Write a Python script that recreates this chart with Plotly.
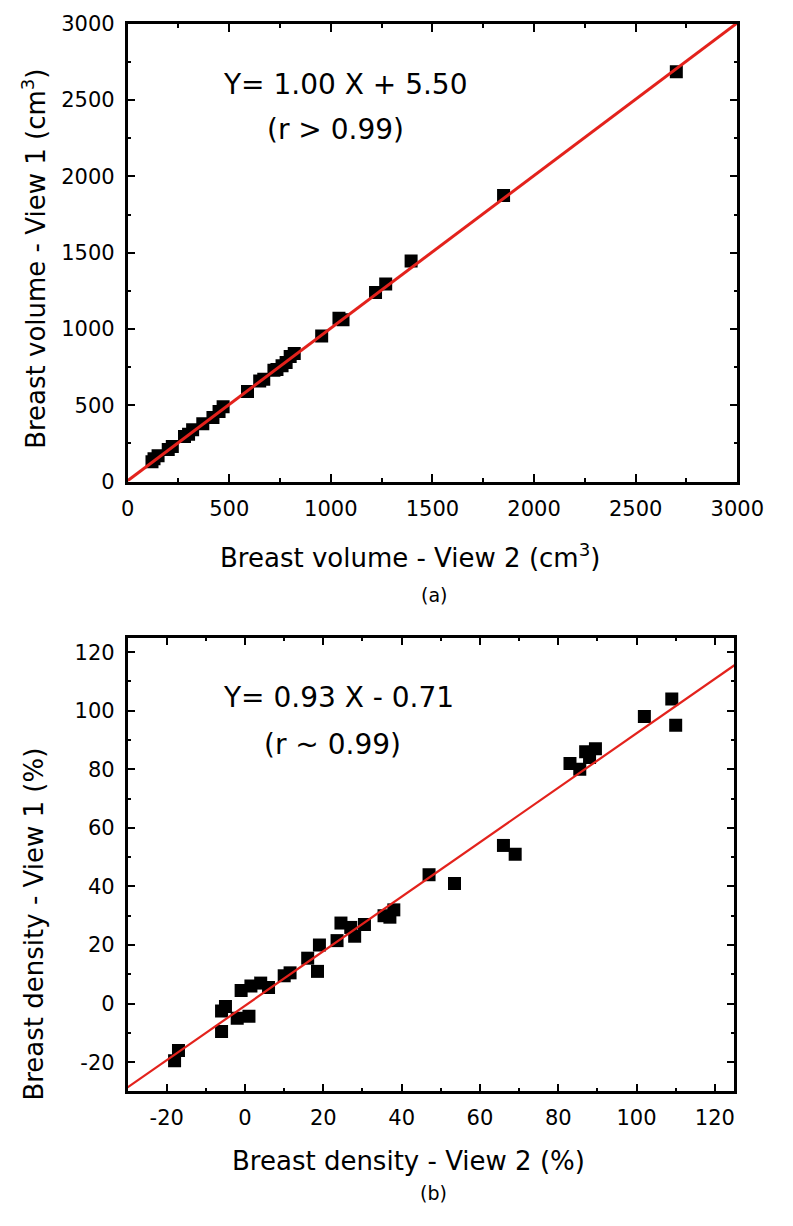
import plotly.graph_objects as go

# ---- data (a): breast volume ----
vol_view2 = [120, 130, 150, 200, 220, 280, 300, 320, 370, 420, 450, 470, 590, 650, 670,
             720, 735, 760, 780, 800, 820, 955, 1040, 1060, 1220, 1270, 1395, 1850, 2700]
vol_view1 = [130, 150, 170, 210, 230, 295, 310, 340, 380, 420, 460, 490, 590, 660, 670,
             730, 735, 760, 780, 820, 840, 955, 1070, 1060, 1240, 1295, 1445, 1875, 2685]
fit_a_x = [0, 3000]
fit_a_slope, fit_a_icpt = 1.00, 5.50
ticks_a = [0, 500, 1000, 1500, 2000, 2500, 3000]

# ---- data (b): breast density ----
den_view2 = [109, 110, 102, 89.5, 87, 88, 83, 85.5, 66, 69, 47, 53.5, 38, 35.5, 37,
             30.5, 28, 24.5, 27, 23.5, 19, 18.5, 16, 11.5, 10, 6, 4, 1.5, -1, 1, -2,
             -5, -6, -6, -17, -18]
den_view1 = [104, 95, 98, 87, 86, 84, 82, 80, 54, 51, 44, 41, 32, 30, 29.5,
             27, 23, 27.5, 26, 21.5, 20, 11, 15.5, 10.5, 9.5, 5.5, 7, 6, 4.5, -4.3, -5,
             -1, -2.5, -9.5, -16, -19.5]
fit_b_x = [-30, 125]
fit_b_slope, fit_b_icpt = 0.93, -0.71
ticks_b = [-20, 0, 20, 40, 60, 80, 100, 120]

W, H = 793, 1226
FONT = "DejaVu Sans"
RED = "#e3221c"

def px_x(p):
    return p / W

def px_y(p):
    return 1 - p / H

fig = go.Figure()
fig.add_trace(go.Scatter(x=vol_view2, y=vol_view1, mode="markers",
                         marker=dict(symbol="square", size=13, color="black"),
                         xaxis="x", yaxis="y", showlegend=False))
fig.add_trace(go.Scatter(x=fit_a_x, y=[fit_a_slope * v + fit_a_icpt for v in fit_a_x],
                         mode="lines", line=dict(color=RED, width=3),
                         xaxis="x", yaxis="y", showlegend=False))
fig.add_trace(go.Scatter(x=den_view2, y=den_view1, mode="markers",
                         marker=dict(symbol="square", size=13, color="black"),
                         xaxis="x2", yaxis="y2", showlegend=False))
fig.add_trace(go.Scatter(x=fit_b_x, y=[fit_b_slope * v + fit_b_icpt for v in fit_b_x],
                         mode="lines", line=dict(color=RED, width=2.2),
                         xaxis="x2", yaxis="y2", showlegend=False))

def axis(rng, tickvals, minor, domain, anchor):
    return dict(range=rng, tickmode="array", tickvals=tickvals,
                ticktext=[str(v) for v in tickvals], domain=domain, anchor=anchor,
                showgrid=False, zeroline=False, showline=True, linecolor="black",
                linewidth=2.5, mirror="ticks", ticks="inside", ticklen=8,
                tickwidth=2, tickcolor="black",
                minor=dict(ticks="inside", ticklen=4, tickwidth=2, dtick=minor,
                           tick0=0, tickcolor="black", showgrid=False),
                tickfont=dict(family=FONT, size=21, color="black"),
                ticklabelstandoff=6)

fig.update_layout(
    width=W, height=H,
    margin=dict(l=0, r=0, t=0, b=0),
    paper_bgcolor="white", plot_bgcolor="white",
    xaxis=axis([0, 3000], ticks_a, 250, [px_x(126), px_x(763)], "y"),
    yaxis=axis([0, 3000], ticks_a, 250, [px_y(479), px_y(12)], "x"),
    xaxis2=axis([-30, 125], ticks_b, 10, [px_x(126), px_x(760)], "y2"),
    yaxis2=axis([-30, 125], ticks_b, 10, [px_y(1101), px_y(638)], "x2"),
)

def ann(text, x, y, size, angle=0):
    fig.add_annotation(text=text, x=px_x(x), y=px_y(y), xref="paper", yref="paper",
                       showarrow=False, textangle=angle, xanchor="center", yanchor="middle",
                       font=dict(family=FONT, size=size, color="black"))

ann("Y= 1.00 X + 5.50", 354, 74, 28)
ann("(r > 0.99)", 343, 120, 28)
ann("Y= 0.93 X - 0.71", 346, 699, 28)
ann("(r ~ 0.99)", 340, 747, 28)
ann("Breast volume - View 2 (cm<sup>3</sup>)", 421, 555, 26)
ann("Breast volume - View 1 (cm<sup>3</sup>)", 28, 252, 26, -90)
ann("Breast density - View 2 (%)", 419, 1172, 26)
ann("Breast density - View 1 (%)", 28, 930, 26, -90)
ann("(a)", 446, 595, 19)
ann("(b)", 446, 1205, 19)

fig.write_html("out.html",
               config={"displayModeBar": False},
               post_script="document.body.style.margin='0';document.body.style.overflow='hidden';")
